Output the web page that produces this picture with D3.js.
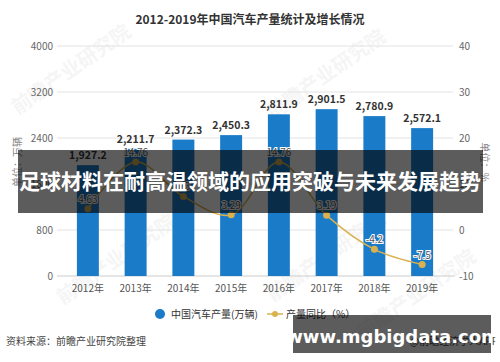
<!DOCTYPE html>
<html>
<head>
<meta charset="utf-8">
<script src="https://cdn.jsdelivr.net/npm/d3@7"></script>
<style>
  body { margin: 0; background: #fff; }
  svg { display: block; font-family: "Noto Sans CJK SC", "Noto Sans", sans-serif; }
</style>
</head>
<body>
<div id="chart-area"></div>
<script>
const years = ['2012年', '2013年', '2014年', '2015年', '2016年', '2017年', '2018年', '2019年'];
const output = [1927.2, 2211.7, 2372.3, 2450.3, 2811.9, 2901.5, 2780.9, 2572.1];
const growth = [4.63, 14.76, 7.3, 3.29, 14.76, 3.19, -4.2, -7.5];
const growthLabels = ['4.63', '14.76', '7.3', '3.29', '14.76', '3.19', '-4.2', '-7.5'];
const leftTicks = [0, 800, 1600, 2400, 3200, 4000];
const rightTicks = [-10, 0, 10, 20, 30, 40];

const width = 500;
const height = 362;
const barColor = '#1a7bc9';
const lineColor = '#d9b14f';

const svg = d3.select('#chart-area')
  .append('svg')
  .attr('width', width)
  .attr('height', height);

// faint watermarks
const marks = [[75, 75], [330, 80], [120, 265], [330, 262], [420, 300]];
svg.append('g')
  .selectAll('text')
  .data(marks)
  .enter()
  .append('text')
  .attr('transform', (d) => `translate(${d[0]},${d[1]}) rotate(-35)`)
  .attr('text-anchor', 'middle')
  .attr('font-size', 20)
  .attr('font-weight', 'bold')
  .attr('fill', '#000')
  .attr('opacity', 0.035)
  .text('前瞻产业研究院');

const x = d3.scaleBand().domain(years).range([64, 446]).paddingInner(0.54).paddingOuter(0.27);
const yL = d3.scaleLinear().domain([0, 4000]).range([276, 46]);
const yR = d3.scaleLinear().domain([-10, 40]).range([276, 46]);

// title
svg.append('text')
  .attr('x', 250)
  .attr('y', 24)
  .attr('text-anchor', 'middle')
  .attr('font-size', 12)
  .attr('font-weight', 'bold')
  .attr('fill', '#333')
  .text('2012-2019年中国汽车产量统计及增长情况');

// grid
svg.append('g')
  .selectAll('line')
  .data(leftTicks.slice(1))
  .enter()
  .append('line')
  .attr('x1', 57)
  .attr('x2', 453)
  .attr('y1', (d) => yL(d))
  .attr('y2', (d) => yL(d))
  .attr('stroke', '#e3e3e3');

svg.append('line')
  .attr('x1', 57).attr('x2', 455)
  .attr('y1', yL(0)).attr('y2', yL(0))
  .attr('stroke', '#ccc');

// left axis labels
svg.append('g')
  .selectAll('text')
  .data(leftTicks)
  .enter()
  .append('text')
  .attr('x', 53)
  .attr('y', (d) => yL(d) + 3.5)
  .attr('text-anchor', 'end')
  .attr('font-size', 10)
  .attr('fill', '#666')
  .text((d) => d);

// right axis labels
svg.append('g')
  .selectAll('text')
  .data(rightTicks)
  .enter()
  .append('text')
  .attr('x', 459)
  .attr('y', (d) => yR(d) + 3.5)
  .attr('font-size', 10)
  .attr('fill', '#666')
  .text((d) => d);

// axis titles
svg.append('text')
  .attr('transform', 'translate(21,162) rotate(-90)')
  .attr('text-anchor', 'middle')
  .attr('font-size', 10)
  .attr('fill', '#888')
  .text('单位：万辆');
svg.append('text')
  .attr('transform', 'translate(481,162) rotate(90)')
  .attr('text-anchor', 'middle')
  .attr('font-size', 10)
  .attr('fill', '#888')
  .text('单位：%');

// bars
svg.append('g')
  .selectAll('rect')
  .data(output)
  .enter()
  .append('rect')
  .attr('x', (d, i) => x(years[i]))
  .attr('y', (d) => yL(d))
  .attr('width', x.bandwidth())
  .attr('height', (d) => yL(0) - yL(d))
  .attr('fill', barColor);

svg.append('g')
  .selectAll('text')
  .data(output)
  .enter()
  .append('text')
  .attr('x', (d, i) => x(years[i]) + x.bandwidth() / 2)
  .attr('y', (d) => yL(d) - 6)
  .attr('text-anchor', 'middle')
  .attr('font-size', 10.5)
  .attr('font-weight', 'bold')
  .attr('fill', '#333')
  .text((d) => d3.format(',.1f')(d));

// year labels
svg.append('g')
  .selectAll('text')
  .data(years)
  .enter()
  .append('text')
  .attr('x', (d) => x(d) + x.bandwidth() / 2)
  .attr('y', 292)
  .attr('text-anchor', 'middle')
  .attr('font-size', 10)
  .attr('fill', '#555')
  .text((d) => d);

// growth line
const line = d3.line()
  .x((d, i) => x(years[i]) + x.bandwidth() / 2)
  .y((d) => yR(d))
  .curve(d3.curveCatmullRom);

svg.append('path')
  .datum(growth)
  .attr('d', line)
  .attr('fill', 'none')
  .attr('stroke', lineColor)
  .attr('stroke-width', 1.5);

svg.append('g')
  .selectAll('circle')
  .data(growth)
  .enter()
  .append('circle')
  .attr('cx', (d, i) => x(years[i]) + x.bandwidth() / 2)
  .attr('cy', (d) => yR(d))
  .attr('r', 3.5)
  .attr('fill', lineColor);

svg.append('g')
  .selectAll('text')
  .data(growth)
  .enter()
  .append('text')
  .attr('x', (d, i) => x(years[i]) + x.bandwidth() / 2)
  .attr('y', (d) => yR(d) - 6)
  .attr('text-anchor', 'middle')
  .attr('font-size', 10)
  .attr('fill', '#555')
  .attr('stroke', '#fff')
  .attr('stroke-width', 2)
  .attr('paint-order', 'stroke')
  .text((d, i) => growthLabels[i]);

// legend
const legend = svg.append('g');
legend.append('circle').attr('cx', 160).attr('cy', 314).attr('r', 5).attr('fill', barColor);
legend.append('text').attr('x', 171).attr('y', 318).attr('font-size', 10).attr('fill', '#333')
  .text('中国汽车产量(万辆)');
legend.append('line').attr('x1', 267).attr('x2', 283).attr('y1', 314).attr('y2', 314)
  .attr('stroke', lineColor).attr('stroke-width', 1.5);
legend.append('circle').attr('cx', 275).attr('cy', 314).attr('r', 3).attr('fill', lineColor);
legend.append('text').attr('x', 286).attr('y', 318).attr('font-size', 10).attr('fill', '#333')
  .text('产量同比（%）');

// source
svg.append('text')
  .attr('x', 6)
  .attr('y', 345)
  .attr('font-size', 10)
  .attr('fill', '#444')
  .text('资料来源：前瞻产业研究院整理');
svg.append('text')
  .attr('x', 498)
  .attr('y', 345)
  .attr('text-anchor', 'end')
  .attr('font-size', 10)
  .attr('fill', '#444')
  .text('@前瞻经济学人APP');

// overlay banner
svg.append('rect')
  .attr('x', 18).attr('y', 150).attr('width', 465).attr('height', 63)
  .attr('fill', '#000').attr('opacity', 0.64);
svg.append('text')
  .attr('x', 250)
  .attr('y', 189)
  .attr('text-anchor', 'middle')
  .attr('font-size', 21)
  .attr('font-weight', 'bold')
  .attr('fill', '#fff')
  .text('足球材料在耐高温领域的应用突破与未来发展趋势');

// site banner
svg.append('rect')
  .attr('x', 293).attr('y', 315).attr('width', 198).attr('height', 38)
  .attr('fill', '#000').attr('opacity', 0.64);
svg.append('text')
  .attr('x', 393)
  .attr('y', 343)
  .attr('text-anchor', 'middle')
  .attr('font-size', 18)
  .attr('font-weight', 'bold')
  .attr('fill', '#fff')
  .attr('font-family', '"DejaVu Sans", sans-serif')
  .text('www.mgbigdata.com');
</script>
</body>
</html>
